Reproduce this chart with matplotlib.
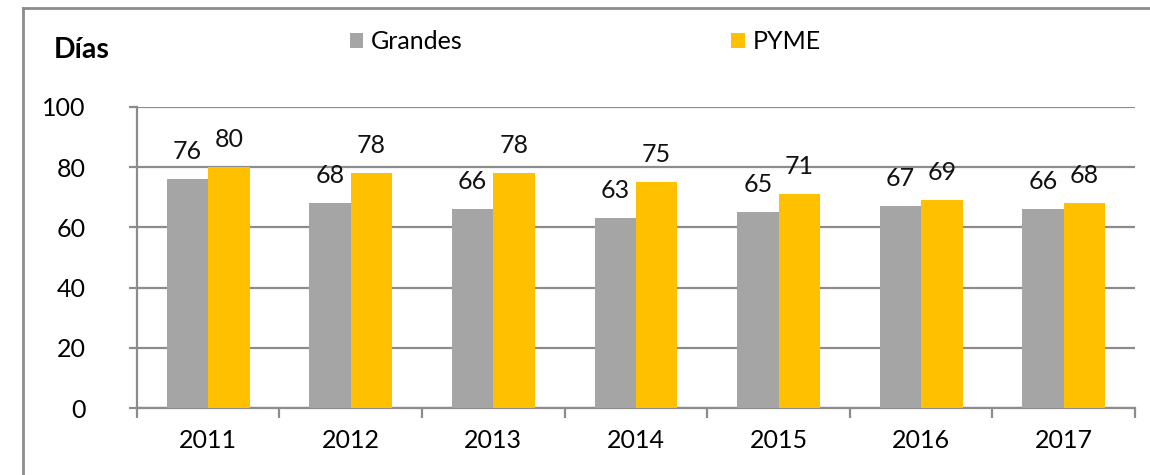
import numpy as np
import matplotlib
matplotlib.use("Agg")
import matplotlib.pyplot as plt
from matplotlib.lines import Line2D

plt.rcParams['font.family'] = ['Lato', 'DejaVu Sans']

years = ['2011', '2012', '2013', '2014', '2015', '2016', '2017']
grandes = [76, 68, 66, 63, 65, 67, 66]
pyme = [80, 78, 78, 75, 71, 69, 68]

gris = '#A5A5A5'
amarillo = '#FFC000'
linea = '#8C8C8C'

fig = plt.figure(figsize=(11.5, 4.75), dpi=100)
ax = fig.add_axes([0.119, 0.141, 0.868, 0.634])

x = np.arange(len(years))
w = 0.29
ax.bar(x - w/2, grandes, w, color=gris, label='Grandes', zorder=3)
ax.bar(x + w/2, pyme, w, color=amarillo, label='PYME', zorder=3)

for i in range(len(years)):
    ax.annotate(str(grandes[i]), (x[i] - w/2, grandes[i]), xytext=(0, 20),
                textcoords='offset points', ha='center', va='center', fontsize=18, color='#111111')
    ax.annotate(str(pyme[i]), (x[i] + w/2, pyme[i]), xytext=(0, 20),
                textcoords='offset points', ha='center', va='center', fontsize=18, color='#111111')

ax.set_xlim(-0.5, len(years) - 0.5)
ax.set_ylim(0, 100)
ax.set_yticks([0, 20, 40, 60, 80, 100])
ax.yaxis.grid(True, color=linea, linewidth=1.6, zorder=0)

ax.set_xticks(np.arange(len(years) + 1) - 0.5)
ax.set_xticklabels([])
ax.set_xticks(x, minor=True)
ax.set_xticklabels(years, minor=True)
ax.tick_params(axis='x', which='major', direction='out', length=7, width=1.6, color=linea)
ax.tick_params(axis='x', which='minor', length=0, pad=15, labelsize=18)
ax.tick_params(axis='y', direction='out', length=6, width=1.6, color=linea, pad=31, labelsize=18)

for s in ['top', 'right']:
    ax.spines[s].set_visible(False)
for s in ['left', 'bottom']:
    ax.spines[s].set_color(linea)
    ax.spines[s].set_linewidth(1.6)

fig.text(0.047, 0.895, 'Días', fontsize=20.5, fontweight='bold', va='center', ha='left')

ax.legend(loc='center left', bbox_to_anchor=(0.304, 0.912), bbox_transform=fig.transFigure,
          ncol=2, frameon=False, fontsize=18, handlelength=0.55, handleheight=0.55,
          handletextpad=0.3, columnspacing=10.75, borderaxespad=0, borderpad=0)

# marco del grafico
fig.add_artist(Line2D([0.02, 1.0], [0.983, 0.983], color=linea, linewidth=2, transform=fig.transFigure))
fig.add_artist(Line2D([0.02, 0.02], [0.983, 0.0], color=linea, linewidth=2, transform=fig.transFigure))

fig.savefig('out.png', dpi=100)
